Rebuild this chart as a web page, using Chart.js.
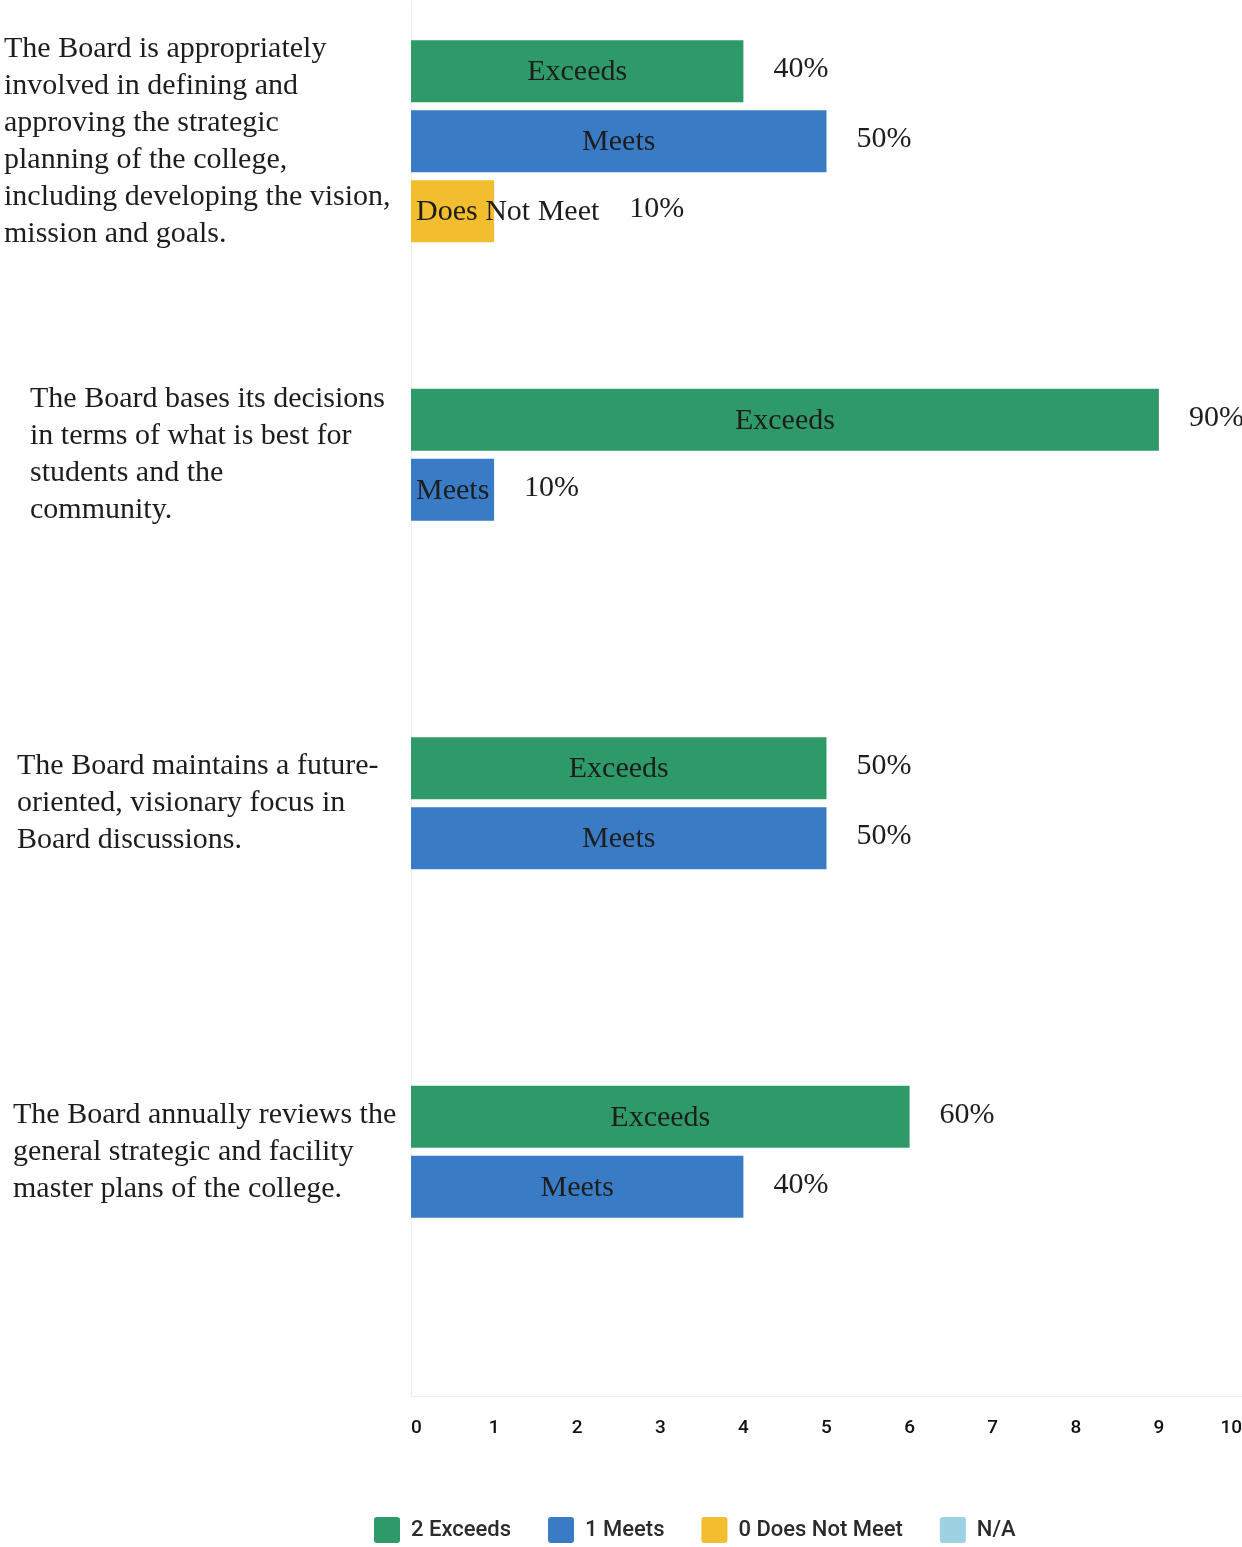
<!DOCTYPE html>
<html>
<head>
<meta charset="utf-8">
<title>Board Self-Evaluation</title>
<script src="https://cdn.jsdelivr.net/npm/chart.js@4.4.1/dist/chart.umd.min.js"></script>
<style>
  html, body { margin: 0; padding: 0; background: #fff; }
  #wrap { width: 1242px; height: 1547px; position: relative; }
</style>
</head>
<body>
<div id="wrap"><canvas id="boardChart"></canvas></div>
<script>
// survey statements, one array of lines each
const questions = [
    ['The Board is appropriately', 'involved in defining and', 'approving the strategic',
     'planning of the college,', 'including developing the vision,', 'mission and goals.'],
    ['The Board bases its decisions', 'in terms of what is best for', 'students and the', 'community.'],
    ['The Board maintains a future-', 'oriented, visionary focus in', 'Board discussions.'],
    ['The Board annually reviews the', 'general strategic and facility', 'master plans of the college.']
];

// number of responses per rating
const exceeds = [4, 9, 5, 6];
const meets = [5, 1, 5, 4];
const doesNotMeet = [1, null, null, null];
const notApplicable = [null, null, null, null];
const respondents = 10;

const legendNames = ['2 Exceeds', '1 Meets', '0 Does Not Meet', 'N/A'];
const barNames = ['Exceeds', 'Meets', 'Does Not Meet', 'N/A'];
const colors = ['#2f9a69', '#3a7bc6', '#f2bd2e', '#9dd2e3'];

// styling
const serif = '"Liberation Serif", "Times New Roman", serif';
const textColor = '#1d1d1d';
const lineGap = 37;
const labelIndent = [4, 30, 17, 13];
const legendPad = 37;
const legendHeight = 26 + legendPad + 4;
const legendStart = 374;
const bottomBand = 151;   // x axis + legend under the plot

// statement text on the left, centred on each group of bars
const questionLabels = {
    id: 'questionLabels',
    afterDraw(chart) {
        const ctx = chart.ctx;
        ctx.save();
        ctx.font = '30px ' + serif;
        ctx.fillStyle = textColor;
        ctx.textAlign = 'left';
        ctx.textBaseline = 'middle';
        questions.forEach((lines, i) => {
            let top = Infinity, bottom = -Infinity;
            chart.data.datasets.forEach((ds, di) => {
                if (ds.data[i] == null) return;
                const bar = chart.getDatasetMeta(di).data[i];
                top = Math.min(top, bar.y - bar.height / 2);
                bottom = Math.max(bottom, bar.y + bar.height / 2);
            });
            const mid = (top + bottom) / 2;
            const y0 = mid - (lines.length - 1) * lineGap / 2;
            lines.forEach((t, k) => ctx.fillText(t, labelIndent[i], y0 + k * lineGap));
        });
        ctx.restore();
    }
};

// rating name inside each bar and the share after it
const barText = {
    id: 'barText',
    afterDatasetsDraw(chart) {
        const ctx = chart.ctx;
        ctx.save();
        ctx.font = '30px ' + serif;
        ctx.fillStyle = textColor;
        ctx.textAlign = 'left';
        ctx.textBaseline = 'middle';
        chart.data.datasets.forEach((ds, di) => {
            chart.getDatasetMeta(di).data.forEach((bar, i) => {
                const v = ds.data[i];
                if (v == null) return;
                const left = bar.base, right = bar.x;
                const w = right - left;
                const name = barNames[di];
                const tw = ctx.measureText(name).width;
                const tx = (tw + 20 > w) ? left + 5 : left + (w - tw) / 2;
                ctx.fillText(name, tx, bar.y + 1);
                const pct = Math.round(v / respondents * 100) + '%';
                ctx.fillText(pct, Math.max(right, tx + tw) + 30, bar.y - 2);
            });
        });
        ctx.restore();
    }
};

// keep the legend short and start it under the bars
const legendPlacement = {
    id: 'legendPlacement',
    beforeUpdate(chart) {
        const lg = chart.legend;
        if (lg && !lg._shortFit) {
            const fit = lg.fit;
            lg.fit = function () {
                fit.call(this);
                this.height = legendHeight;
            };
            lg._shortFit = true;
        }
    },
    afterLayout(chart) {
        if (chart.legend) chart.legend.left = legendStart - legendPad;
    }
};

const ctx = document.getElementById('boardChart').getContext('2d');

const boardChart = new Chart(ctx, {
    type: 'bar',
    data: {
        labels: questions,
        datasets: [exceeds, meets, doesNotMeet, notApplicable].map((d, i) => ({
            label: legendNames[i],
            data: d,
            backgroundColor: colors[i],
            borderWidth: 0,
            barPercentage: 0.886,
            categoryPercentage: 0.803
        }))
    },
    options: {
        indexAxis: 'y',
        responsive: true,
        maintainAspectRatio: false,
        animation: false,
        devicePixelRatio: 1,
        layout: { padding: { top: 2, left: 0, right: 0, bottom: 0 } },
        scales: {
            x: {
                min: 0,
                max: respondents,
                ticks: {
                    stepSize: 1,
                    align: 'inner',
                    padding: 21,
                    color: '#111',
                    font: { family: 'Roboto, sans-serif', size: 19, weight: '500' }
                },
                grid: { display: false, drawTicks: false },
                border: { display: true, color: '#efefef' },
                afterFit(s) {
                    s.height = bottomBand - legendHeight;
                    s.paddingLeft = 0;
                    s.paddingRight = 0;
                }
            },
            y: {
                ticks: { display: false },
                grid: { display: false, drawTicks: false },
                border: { display: true, color: '#efefef' },
                afterFit(s) { s.width = 411; }
            }
        },
        plugins: {
            legend: {
                position: 'bottom',
                align: 'start',
                labels: {
                    boxWidth: 26,
                    boxHeight: 26,
                    padding: legendPad,
                    color: '#2b2b2b',
                    useBorderRadius: true,
                    borderRadius: 3,
                    font: { family: 'Roboto, sans-serif', size: 22, weight: '500' }
                }
            },
            tooltip: { enabled: false }
        }
    },
    plugins: [questionLabels, barText, legendPlacement]
});
</script>
</body>
</html>
